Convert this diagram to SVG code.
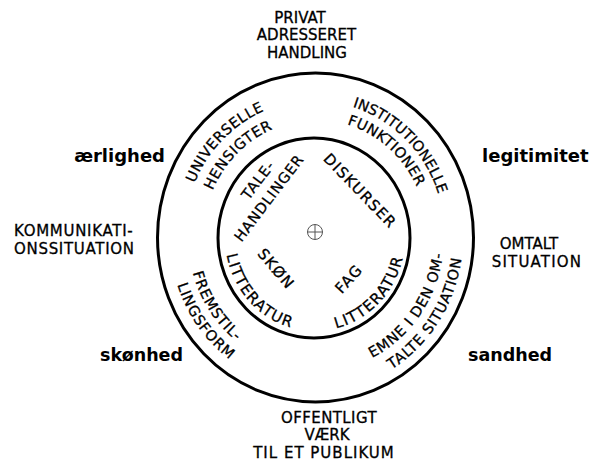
<svg xmlns="http://www.w3.org/2000/svg" width="593" height="466" viewBox="0 0 593 466">
<style>
.t{font-family:"DejaVu Sans",Verdana,sans-serif;font-size:15px;fill:#000;stroke:#000;stroke-width:0.3px}
.b{font-family:"DejaVu Sans",Verdana,sans-serif;font-size:18px;font-weight:bold;fill:#000}
.c{font-family:"DejaVu Sans",Verdana,sans-serif;font-size:14.5px;letter-spacing:0.8px;fill:#000;stroke:#000;stroke-width:0.3px}
.w{font-size:15px;letter-spacing:1.3px}
.ring{fill:none;stroke:#000;stroke-width:3}
.mark{fill:none;stroke:#555;stroke-width:1}
</style>
<defs>
<path id="pU" d="M187.9,270.1 A131,136.9 0 0 1 351.1,105.4"/>
<path id="pH" d="M206.6,264.2 A111.5,116.5 0 0 1 346.7,125.3"/>
<path id="pI" d="M278.1,106.7 A130,135.85 0 0 1 441.4,268.7"/>
<path id="pF" d="M276.5,126.5 A112.5,117.56 0 0 1 425.8,257.4"/>
<path id="pFr" d="M200.4,179.9 A127,132.7 0 0 0 325,369.3"/>
<path id="pLi" d="M181.5,177.8 A145,151.5 0 0 0 332.7,387.4"/>
<path id="pEm" d="M301.5,371.1 A129,134.8 0 0 0 432.8,182.2"/>
<path id="pTa" d="M304.7,391.3 A148,154.7 0 0 0 448,169.2"/>
<path id="pLL" d="M228.7,210.3 A90,94.05 0 0 0 336,328.5"/>
<path id="pLR" d="M291.7,327.8 A90,94.05 0 0 0 401.9,212.7"/>
</defs>
<rect width="593" height="466" fill="#fff"/>
<g id="outer-circle"><ellipse class="ring" cx="315.5" cy="237.5" rx="158" ry="164.5"/></g>
<g id="inner-circle"><ellipse class="ring" cx="314" cy="238" rx="96" ry="100"/></g>
<g id="center-mark">
<circle class="mark" cx="315" cy="232" r="7.5"/>
<path class="mark" d="M307.5,232H322.5M315,224.5V239.5"/>
</g>
<g id="top-label" class="t" text-anchor="middle">
<text x="300" y="23">PRIVAT</text>
<text x="306.5" y="40">ADRESSERET</text>
<text x="307" y="58">HANDLING</text>
</g>
<g id="bottom-label" class="t" text-anchor="middle">
<text x="329" y="423" letter-spacing="0.4">OFFENTLIGT</text>
<text x="327" y="440">VÆRK</text>
<text x="324" y="458" letter-spacing="1">TIL ET PUBLIKUM</text>
</g>
<g id="left-label" class="t" letter-spacing="0.7">
<text x="14" y="236">KOMMUNIKATI-</text>
<text x="14" y="254">ONSSITUATION</text>
</g>
<g id="right-label" class="t" text-anchor="middle">
<text x="529" y="249">OMTALT</text>
<text x="537" y="267" letter-spacing="1.2">SITUATION</text>
</g>
<g id="values" class="b">
<text x="165" y="162" text-anchor="end">ærlighed</text>
<text x="482" y="162">legitimitet</text>
<text x="183" y="361" text-anchor="end" font-size="17.5">skønhed</text>
<text x="468" y="361" font-size="17.5">sandhed</text>
</g>
<g id="ring-upper-left" class="c" text-anchor="middle">
<text letter-spacing="0.4"><textPath href="#pU" startOffset="50%">UNIVERSELLE</textPath></text>
<text letter-spacing="0.6"><textPath href="#pH" startOffset="50%">HENSIGTER</textPath></text>
</g>
<g id="ring-upper-right" class="c" text-anchor="middle">
<text letter-spacing="0"><textPath href="#pI" startOffset="50%">INSTITUTIONELLE</textPath></text>
<text letter-spacing="0.4"><textPath href="#pF" startOffset="50%">FUNKTIONER</textPath></text>
</g>
<g id="ring-lower-left" class="c" text-anchor="middle">
<text><textPath href="#pFr" startOffset="50%">FREMSTIL-</textPath></text>
<text><textPath href="#pLi" startOffset="50%">LINGSFORM</textPath></text>
</g>
<g id="ring-lower-right" class="c" text-anchor="middle">
<text><textPath href="#pEm" startOffset="50%">EMNE I DEN OM-</textPath></text>
<text><textPath href="#pTa" startOffset="50%">TALTE SITUATION</textPath></text>
</g>
<g id="inner-upper-left" class="c" text-anchor="middle">
<text transform="translate(258,180) rotate(-53)" y="5">TALE-</text>
<text transform="translate(269,198) rotate(-53)" y="5">HANDLINGER</text>
</g>
<g id="inner-upper-right" class="c w" text-anchor="middle">
<text transform="translate(360,191) rotate(46)" y="5">DISKURSER</text>
</g>
<g id="inner-lower-left" class="c w" text-anchor="middle">
<text transform="translate(276,269) rotate(50)" y="5">SKØN</text>
<text><textPath href="#pLL" startOffset="50%">LITTERATUR</textPath></text>
</g>
<g id="inner-lower-right" class="c w" text-anchor="middle">
<text transform="translate(349,279) rotate(-48)" y="5">FAG</text>
<text><textPath href="#pLR" startOffset="50%">LITTERATUR</textPath></text>
</g>
</svg>
